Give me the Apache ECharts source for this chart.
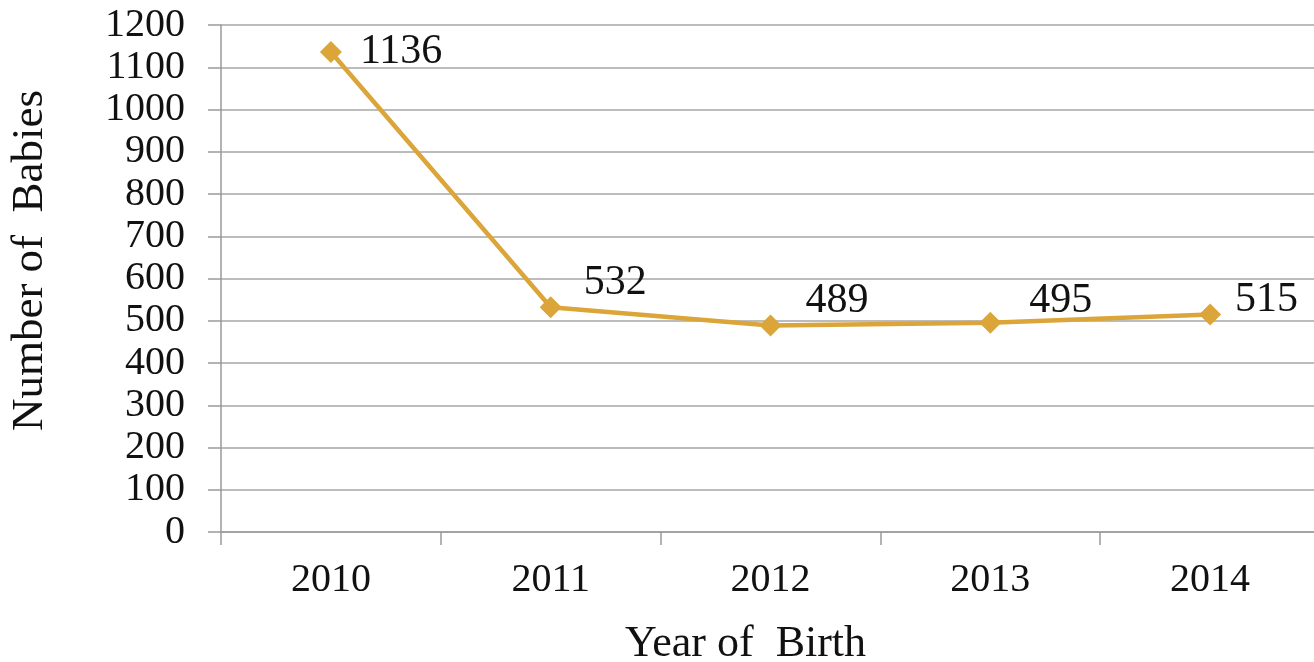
<!DOCTYPE html>
<html>
<head>
<meta charset="utf-8">
<script src="https://cdn.jsdelivr.net/npm/echarts@6/dist/echarts.min.js"></script>
<style>
  html, body { margin: 0; padding: 0; background: #fff; }
  #chart { width: 1314px; height: 662px; }
</style>
</head>
<body>
<div id="chart"></div>
<script>
// 出生年份 / 婴儿数
const years = ['2010', '2011', '2012', '2013', '2014']
const babies = [1136, 532, 489, 495, 515]
const labelOffsets = [[2, 0], [6, -24], [8, -24], [12, -22], [-2, -14]]

const font = '"Liberation Serif", "DejaVu Serif", serif'
const gold = '#DBA53A'

const chart = echarts.init(document.getElementById('chart'))
const option = {
  animation: false,
  grid: { left: 221, top: 25, bottom: 130, width: 1099, outerBoundsMode: 'none', containLabel: false },
  xAxis: {
    type: 'category',
    data: years,
    boundaryGap: true,
    name: 'Year of  Birth',
    nameLocation: 'middle',
    nameGap: 90,
    nameTextStyle: { fontFamily: font, fontSize: 44, color: '#111', padding: [0, 50, 0, 0] },
    axisLine: { lineStyle: { color: '#9a9a9a', width: 1.5 } },
    axisTick: { show: true, length: 13, lineStyle: { color: '#9a9a9a', width: 1.5 } },
    axisLabel: { fontFamily: font, fontSize: 40, color: '#111', margin: 28 }
  },
  yAxis: {
    type: 'value',
    min: 0,
    max: 1200,
    interval: 100,
    name: 'Number of  Babies',
    nameLocation: 'middle',
    nameGap: 168,
    nameTextStyle: { fontFamily: font, fontSize: 45, color: '#111', padding: [0, 0, 0, 36] },
    axisLine: { show: true, lineStyle: { color: '#9a9a9a', width: 1.5 } },
    axisTick: { show: true, length: 13, lineStyle: { color: '#9a9a9a', width: 1.5 } },
    axisLabel: { fontFamily: font, fontSize: 40, color: '#111', margin: 36, formatter: v => String(v) },
    splitLine: { lineStyle: { color: '#a6a6a6', width: 1.5 } }
  },
  series: [
    {
      type: 'line',
      data: babies.map((v, i) => ({
        value: v,
        label: { offset: labelOffsets[i] }
      })),
      symbol: 'diamond',
      symbolSize: 22,
      lineStyle: { color: gold, width: 4.5 },
      itemStyle: { color: gold },
      label: {
        show: true,
        position: 'right',
        distance: 16,
        fontFamily: font,
        fontSize: 42,
        color: '#111'
      }
    }
  ]
}
chart.setOption(option)
</script>
</body>
</html>
